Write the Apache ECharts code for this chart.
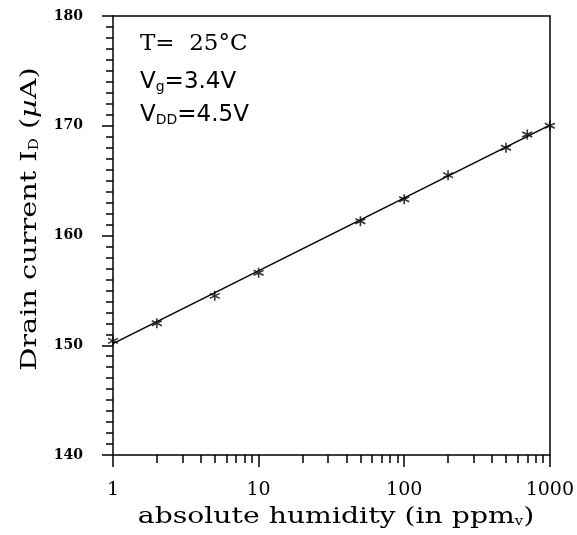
<!DOCTYPE html>
<html><head><meta charset="utf-8">
<script src="https://cdn.jsdelivr.net/npm/echarts@6/dist/echarts.min.js"></script>
<style>html,body{margin:0;padding:0;background:#fff}#c{width:577px;height:535px}</style>
</head><body><div id="c"></div>
<script>
// Data
var humidity = [1, 2, 5, 10, 50, 100, 200, 500, 700, 1000];
var drainCurrent = [150.4, 152.0, 154.5, 156.6, 161.3, 163.3, 165.5, 168.0, 169.2, 170.0];
var fitX = [1, 1000];
var fitY = [150.15, 170.05];

var asterisk = 'path://M0,-10L0,10M-8.66,-5L8.66,5M-8.66,5L8.66,-5';

var chart = echarts.init(document.getElementById('c'));
chart.setOption({
  animation:false,
  grid:{left:113, right:25, top:16, bottom:80},
  xAxis:[{
    type:'log', min:1, max:1000, position:'bottom',
    axisLine:{show:true, onZero:false, lineStyle:{color:'#000', width:1.5}},
    axisTick:{show:true, length:12, lineStyle:{color:'#000', width:1.5}},
    minorTick:{show:true, splitNumber:9, length:8, lineStyle:{color:'#000', width:1.5}},
    axisLabel:{color:'#000', fontFamily:'DejaVu Serif', fontSize:19, margin:26, formatter:function(v){return String(Math.round(v));}},
    splitLine:{show:false}
  },{
    type:'log', min:1, max:1000, position:'top',
    axisLine:{show:true, onZero:false, lineStyle:{color:'#000', width:1.5}},
    axisTick:{show:false}, axisLabel:{show:false}, splitLine:{show:false}
  }],
  yAxis:[{
    type:'value', min:140, max:180, interval:10, position:'left',
    axisLine:{show:true, onZero:false, lineStyle:{color:'#000', width:1.5}},
    axisTick:{show:true, length:11, lineStyle:{color:'#000', width:1.5}},
    minorTick:{show:true, splitNumber:10, length:7, lineStyle:{color:'#000', width:1.5}},
    axisLabel:{color:'#000', fontFamily:'DejaVu Serif', fontWeight:'bold', fontSize:14, margin:30},
    splitLine:{show:false}
  },{
    type:'value', min:140, max:180, interval:10, position:'right',
    axisLine:{show:true, onZero:false, lineStyle:{color:'#000', width:1.5}},
    axisTick:{show:false}, axisLabel:{show:false}, splitLine:{show:false}
  }],
  series:[{
    type:'line', xAxisIndex:0, yAxisIndex:0,
    data:fitX.map(function(x,i){return [x, fitY[i]];}),
    showSymbol:false, symbol:'none',
    lineStyle:{color:'#000', width:1.5}
  },{
    type:'scatter', xAxisIndex:0, yAxisIndex:0,
    data:humidity.map(function(x,i){return [x, drainCurrent[i]];}),
    symbol:asterisk, symbolSize:10,
    itemStyle:{color:'rgba(0,0,0,0)', borderColor:'#000', borderWidth:1.6}
  }],
  graphic:[{
    type:'text', x:336, y:517, scaleX:1.23,
    style:{
      text:'absolute humidity (in ppm{s|v})', fill:'#000',
      font:'23px "DejaVu Serif"', align:'center', verticalAlign:'middle',
      rich:{s:{fontSize:12, fontFamily:'DejaVu Serif', padding:[10,0,0,0]}}
    }
  },{
    type:'text', x:30, y:219, rotation:Math.PI/2, scaleX:1.25,
    style:{
      text:'Drain current I{s|D} ({it|µ}A)', fill:'#000',
      font:'23px "DejaVu Serif"', align:'center', verticalAlign:'middle',
      rich:{s:{fontSize:12, fontFamily:'DejaVu Serif', padding:[10,0,0,0]}, it:{fontSize:23, fontFamily:'DejaVu Serif', fontStyle:'italic'}}
    }
  },{
    type:'text', x:140, y:33,
    style:{text:'T=  25°C', fill:'#000', font:'23px "DejaVu Serif"'}
  },{
    type:'text', x:140, y:70,
    style:{text:'V{s|g}=3.4V', fill:'#000', font:'23px "DejaVu Sans"',
      rich:{s:{fontSize:14, fontFamily:'DejaVu Sans', padding:[10,0,0,0]}}}
  },{
    type:'text', x:140, y:103,
    style:{text:'V{s|DD}=4.5V', fill:'#000', font:'23px "DejaVu Sans"',
      rich:{s:{fontSize:14, fontFamily:'DejaVu Sans', padding:[10,0,0,0]}}}
  }]
});
</script></body></html>
